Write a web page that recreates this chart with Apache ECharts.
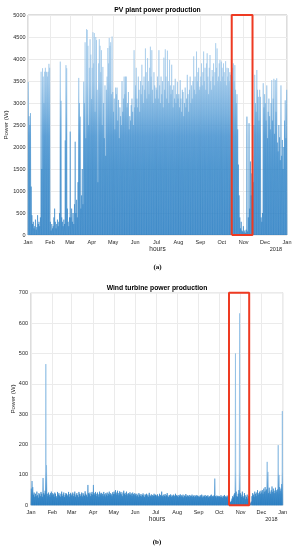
<!DOCTYPE html>
<html><head><meta charset="utf-8">
<script src="https://cdn.jsdelivr.net/npm/echarts@6/dist/echarts.min.js"></script>
<style>html,body{margin:0;padding:0;background:#fff}#c{width:296px;height:550px}</style>
</head><body><div id="c"></div>
<script>
// ---- data ----
const monthLabels = ['Jan','Feb','Mar','Apr','May','Jun','Jul','Aug','Sep','Oct','Nov','Dec','Jan'];
const monthStartDays = [0,31,59,90,120,151,181,212,243,273,304,334,365];
const pvAxis = {min: 0, max: 5000, step: 500};
const windAxis = {min: 0, max: 700, step: 100};
const highlightDays = [287.1, 316.4];   // Oct 15 – Nov 13 box
const yearLabel = '2018';

// PV plant: daily peak power (W), one array per month
const pvDailyPeakW = [
 [3480,2700,2500,2770,1100,450,250,300,150,200, 350,120,180,450,250,300,200,400,3710,1500, 3790,3600,3000,3710,3800,3710,3700,3600,3710,3890, 3800],
 [300,100,250,150,200,400,600,300,150,250, 350,200,300,500,3940,3050,400,300,200,350, 250,2150,3860,3790,600,300,200,400],
 [2350,400,600,300,500,250,700,2120,500,800, 400,1200,3570,3000,2690,600,900,1500,700,3485, 3000,4380,2200,4680,4660,4300,2500,3800,4450,4100, 3090],
 [3800,4610,3900,4590,2800,4500,4430,3300,1200,3900, 4450,4300,3700,4200,2500,3820,3000,2200,3400,1800, 3300,3600,4250,3900,4480,4300,4380,3200,4510,3250],
 [2800,3100,2400,3350,3200,3350,2600,3070,2200,2900, 2700,2500,3500,2800,3100,3600,3200,3600,3600,2900, 3000,3250,2400,2700,2600,2950,3100,2800,2500,4200, 2900],
 [3400,3800,3100,2900,3600,3300,2800,3500,3200,3870, 3400,3000,3600,3300,4240,3700,3100,4020,3500,3200, 3800,4280,3600,4200,3300,3000,3700,3400,3100,3350],
 [3300,3600,3100,4200,3400,3000,3600,3200,3500,2900, 4030,3300,4220,3600,3100,4190,3500,3000,3980,3400, 3200,3870,3300,2900,3400,3100,3550,3000,3200,3480, 3100],
 [3200,2900,3520,3100,2800,3300,3250,2700,3000,3350, 2900,3100,3640,3200,2800,3300,3600,3000,3400,3100, 3500,4060,3300,3600,3200,4170,3500,3700,3800,3300, 3370],
 [3600,3900,3400,3700,4170,3500,3800,3300,3900,4130, 3600,3200,3800,4090,3500,3300,3750,3600,3900,3400, 3700,4360,3800,4240,3500,3600,3900,3980,3500,3940],
 [3800,3600,3900,3700,3500,3950,3400,3800,3600,3790, 3500,3700,3640,3300,3600,3800,3900,3500,3860,3300, 3000,3200,2400,1600,900,400,150,300,100,80, 200],
 [60,100,50,120,2690,80,400,2540,600,1670, 900,1400,1800,1200,2500,3640,3000,2800,3750,3300, 3140,2600,3300,3140,400,300,500,3450,2900,3200],
 [3000,2600,3400,2200,2800,3100,2700,2400,3000,3520, 2600,3100,3550,2300,3520,2800,3560,2100,1900,2500, 2220,1700,3400,1800,2160,1500,2000,2600,3060,2200, 3300]
];

// Wind turbine: daily peak power (W), one array per month
const windDailyPeakW = [
 [55,80,60,35,42,28,38,30,45,33, 25,40,36,30,44,38,28,90,40,35, 48,465,132,38,30,42,35,28,40,45, 33],
 [40,36,28,42,38,30,25,44,35,40, 32,28,38,45,30,36,42,27,33,40, 38,30,35,44,28,37,41,32],
 [36,42,30,38,45,28,35,40,33,27, 44,38,30,36,42,29,40,35,31,46, 38,33,28,67,40,36,42,30,38,44, 35],
 [67,40,35,44,38,30,42,36,28,45, 39,33,41,37,30,44,36,29,40,35, 42,31,38,45,34,40,36,30,43,37],
 [45,38,50,42,35,48,40,33,46,39, 44,36,30,42,48,37,41,34,45,38, 32,40,36,43,35,39,31,42,37,33, 40],
 [36,30,38,33,28,40,35,31,37,29, 34,39,32,27,36,33,38,30,35,28, 41,33,30,36,29,34,31,38,32,35],
 [33,29,36,31,27,38,34,30,45,32, 28,35,31,37,29,33,40,30,27,34, 31,36,28,33,30,35,29,32,38,31, 34],
 [30,27,34,31,36,28,33,29,35,26, 32,30,37,28,33,31,29,34,27,32, 30,35,28,31,33,27,30,34,29,32, 28],
 [31,27,33,29,35,26,32,28,30,34, 27,31,29,33,26,30,28,32,35,27, 31,29,33,88,30,26,32,29,31,27],
 [30,27,33,28,25,31,29,34,27,30, 26,32,28,24,18,12,10,15,22,30, 26,35,40,500,45,30,28,38,50,632, 40],
 [35,28,45,30,25,40,33,20,28,35, 22,30,15,8,5,12,30,40,35,28, 45,38,30,42,50,35,40,45,38,48],
 [42,50,38,55,45,60,48,52,143,110, 40,58,45,38,50,62,44,55,48,40, 58,50,45,52,198,100,60,48,55,70, 310]
];

// ---- build ----
function dailyTrace(monthly) {
  const pts = [];
  monthly.forEach((vals, m) => {
    vals.forEach((v, i) => {
      const d = monthStartDays[m] + i;
      pts.push([d, 0], [d + 0.5, v]);
    });
  });
  pts.push([365, 0]);
  return pts;
}
function boxTrace(yMax) {
  const a = highlightDays[0], b = highlightDays[1];
  return [[a, 0], [a, yMax], [b, yMax], [b, 0], [a, 0]];
}

const FONT = 'Liberation Sans, Arial, Helvetica, sans-serif';
const RED = '#ee3a22';
const TXT = '#262626';

function grad(y0, y1, stops) {
  return {type: 'linear', x: 0, y: y0, x2: 0, y2: y1, global: true,
    colorStops: stops.map(s => ({offset: s[0], color: s[1]}))};
}
const pvColor = grad(15, 235, [[0, '#a2caea'], [0.3, '#90bfe6'], [0.45, '#64a5d9'], [0.55, '#4390cf'], [0.7, '#3386c8'], [1, '#2a7ec3']]);
const windColor = grad(292.7, 505.3, [[0, '#8fbfe6'], [0.84, '#7fb4df'], [0.91, '#4f97d2'], [0.95, '#2f82c5'], [1, '#1f77be']]);

function xAx(gi) {
  return {
    type: 'value', gridIndex: gi, min: 0, max: 365,
    axisLine: {show: false},
    axisTick: {show: false, customValues: monthStartDays},
    axisLabel: {customValues: monthStartDays, fontSize: 5.5, color: TXT, margin: 4, fontFamily: FONT,
      formatter: v => monthLabels[monthStartDays.indexOf(Math.round(v))]},
    splitLine: {show: true, lineStyle: {color: '#ebebeb', width: 1}}
  };
}
function yAx(gi, ax, margin) {
  return {
    type: 'value', gridIndex: gi, min: ax.min, max: ax.max, interval: ax.step,
    axisLine: {show: false}, axisTick: {show: false},
    axisLabel: {fontSize: 5.5, color: TXT, margin: margin, fontFamily: FONT, formatter: v => String(v)},
    splitLine: {show: true, lineStyle: {color: '#ebebeb', width: 1}}
  };
}
function txt(x, y, text, opts) {
  return Object.assign({type: 'text', x: x, y: y, silent: true,
    style: Object.assign({text: text, fill: TXT, textAlign: 'center', textVerticalAlign: 'middle',
      font: '5.5px ' + FONT}, opts && opts.style)}, opts && opts.el);
}

const chart = echarts.init(document.getElementById('c'), null, {renderer: 'canvas'});
chart.setOption({
  animation: false,
  grid: [
    {left: 28, top: 15, width: 259, height: 220, show: true, borderColor: '#a9a9a9', borderWidth: 0.8, backgroundColor: '#fff'},
    {left: 31, top: 292.7, width: 251.7, height: 212.6, show: true, borderColor: '#a9a9a9', borderWidth: 0.8, backgroundColor: '#fff'}
  ],
  xAxis: [xAx(0), xAx(1)],
  yAxis: [yAx(0, pvAxis, 2.5), yAx(1, windAxis, 3)],
  series: [
    {type: 'line', xAxisIndex: 0, yAxisIndex: 0, data: dailyTrace(pvDailyPeakW), showSymbol: false, symbol: 'none',
      lineStyle: {color: pvColor, width: 0.55}, silent: true, z: 2},
    {type: 'line', xAxisIndex: 1, yAxisIndex: 1, data: dailyTrace(windDailyPeakW), showSymbol: false, symbol: 'none',
      lineStyle: {color: windColor, width: 0.7}, silent: true, z: 2},
    {type: 'line', xAxisIndex: 0, yAxisIndex: 0, data: boxTrace(pvAxis.max), showSymbol: false, symbol: 'none', clip: false,
      lineStyle: {color: RED, width: 2}, silent: true, z: 5},
    {type: 'line', xAxisIndex: 1, yAxisIndex: 1, data: boxTrace(windAxis.max), showSymbol: false, symbol: 'none', clip: false,
      lineStyle: {color: RED, width: 2}, silent: true, z: 5}
  ],
  graphic: [
    txt(157.5, 10, 'PV plant power production', {style: {font: 'bold 6.8px ' + FONT, fill: '#000'}}),
    txt(157.5, 249.5, 'hours', {style: {font: '6.5px ' + FONT}}),
    txt(282, 249.5, yearLabel, {style: {textAlign: 'right', font: '5.5px ' + FONT}}),
    txt(6, 125, 'Power (W)', {style: {font: '6.2px ' + FONT}, el: {rotation: Math.PI / 2}}),
    txt(157.5, 267.5, '(a)', {style: {font: 'bold 7px "Liberation Serif", "Times New Roman", serif', fill: '#000'}}),

    txt(157, 288, 'Wind turbine power production', {style: {font: 'bold 6.8px ' + FONT, fill: '#000'}}),
    txt(157, 519.5, 'hours', {style: {font: '6.5px ' + FONT}}),
    txt(277.5, 519.5, yearLabel, {style: {textAlign: 'right', font: '5.5px ' + FONT}}),
    txt(13, 399, 'Power (W)', {style: {font: '6.2px ' + FONT}, el: {rotation: Math.PI / 2}}),
    txt(157, 541.7, '(b)', {style: {font: 'bold 7px "Liberation Serif", "Times New Roman", serif', fill: '#000'}})
  ]
});
</script>
</body></html>
